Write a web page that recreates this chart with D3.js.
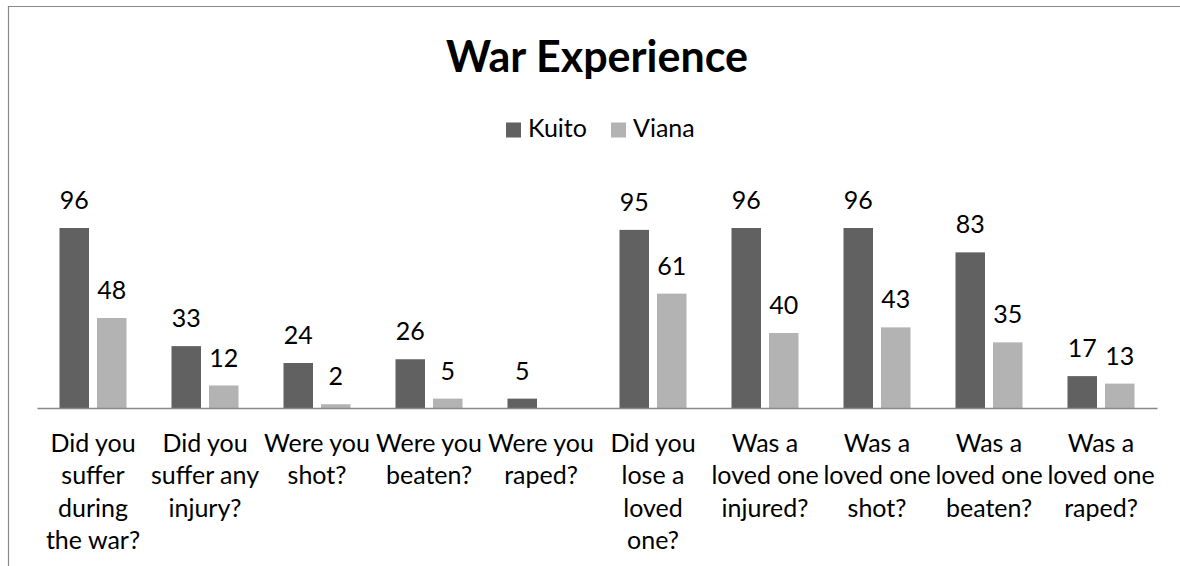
<!DOCTYPE html>
<html>
<head>
<meta charset="utf-8">
<script src="https://cdn.jsdelivr.net/npm/d3@7"></script>
<style>
  body { margin: 0; background: #fff; }
  text { font-family: Lato, "Open Sans", sans-serif; fill: #000; }
</style>
</head>
<body>
<div id="chart"></div>
<script>
var categories = [
  "Did you suffer during the war?",
  "Did you suffer any injury?",
  "Were you shot?",
  "Were you beaten?",
  "Were you raped?",
  "Did you lose a loved one?",
  "Was a loved one injured?",
  "Was a loved one shot?",
  "Was a loved one beaten?",
  "Was a loved one raped?"
];
// line breaks as they wrap in the original
var categoryLines = [
  ["Did you", "suffer", "during", "the war?"],
  ["Did you", "suffer any", "injury?"],
  ["Were you", "shot?"],
  ["Were you", "beaten?"],
  ["Were you", "raped?"],
  ["Did you", "lose a", "loved", "one?"],
  ["Was a", "loved one", "injured?"],
  ["Was a", "loved one", "shot?"],
  ["Was a", "loved one", "beaten?"],
  ["Was a", "loved one", "raped?"]
];
var series = ["Kuito", "Viana"];
var kuito = [96, 33, 24, 26, 5, 95, 96, 96, 83, 17];
var viana = [48, 12, 2, 5, null, 61, 40, 43, 35, 13];
var colors = ["#616161", "#b3b3b3"];

var width = 1180, height = 566;
var yMax = 120;

var svg = d3.select("#chart").append("svg")
  .attr("width", width)
  .attr("height", height);

// chart border (only top and left visible in the crop)
svg.append("path")
  .attr("d", "M8.5," + height + "V6.5H" + width)
  .attr("fill", "none")
  .attr("stroke", "#8a8a8a")
  .attr("stroke-width", 1.2);

var x0 = d3.scaleBand()
  .domain(categories)
  .range([37, 1157]);

var x1 = d3.scaleBand()
  .domain(series)
  .range([22.5, 89.5])
  .paddingInner(0.2133);

var y = d3.scaleLinear()
  .domain([0, yMax])
  .range([408, 183]);

var rows = categories.map(function (c, i) {
  return { cat: c, values: [kuito[i], viana[i]] };
});

var group = svg.append("g")
  .selectAll("g")
  .data(rows)
  .enter().append("g")
  .attr("transform", function (d) { return "translate(" + x0(d.cat) + ",0)"; });

var cells = group.selectAll("g")
  .data(function (d) {
    return series.map(function (s, j) { return { s: s, v: d.values[j], j: j }; })
      .filter(function (e) { return e.v != null; });
  })
  .enter().append("g");

cells.append("rect")
  .attr("x", function (d) { return x1(d.s); })
  .attr("width", x1.bandwidth())
  .attr("y", function (d) { return y(d.v); })
  .attr("height", function (d) { return y(0) - y(d.v); })
  .attr("fill", function (d) { return colors[d.j]; });

cells.append("text")
  .attr("x", function (d) { return x1(d.s) + x1.bandwidth() / 2; })
  .attr("y", function (d) { return y(d.v) - 19; })
  .attr("text-anchor", "middle")
  .style("font-size", "25px")
  .text(function (d) { return d.v; });

// category axis
var axis = svg.append("g")
  .attr("transform", "translate(0," + y(0) + ")")
  .call(d3.axisBottom(x0).tickSize(0).tickPadding(0));

axis.select(".domain")
  .attr("stroke", "#898989")
  .attr("stroke-width", 1.3);

axis.selectAll(".tick text").each(function (d, i) {
  var t = d3.select(this);
  t.text(null)
    .attr("y", 0)
    .attr("dy", null)
    .attr("fill", "#000")
    .style("font-size", "25px")
    .style("font-family", "Lato, 'Open Sans', sans-serif");
  categoryLines[i].forEach(function (line, k) {
    t.append("tspan")
      .attr("x", 0)
      .attr("y", 44 + k * 32.3)
      .text(line);
  });
});

// title
svg.append("text")
  .attr("x", 597)
  .attr("y", 71.5)
  .attr("text-anchor", "middle")
  .style("font-size", "43px")
  .style("font-weight", "bold")
  .text("War Experience");

// legend
var legendX = [506, 611];
var legend = svg.append("g")
  .selectAll("g")
  .data(series)
  .enter().append("g")
  .attr("transform", function (d, i) { return "translate(" + legendX[i] + ",0)"; });

legend.append("rect")
  .attr("x", 0)
  .attr("y", 122.5)
  .attr("width", 15)
  .attr("height", 15)
  .attr("fill", function (d, i) { return colors[i]; });

legend.append("text")
  .attr("x", 22)
  .attr("y", 137.3)
  .style("font-size", "25px")
  .text(function (d) { return d; });
</script>
</body>
</html>
